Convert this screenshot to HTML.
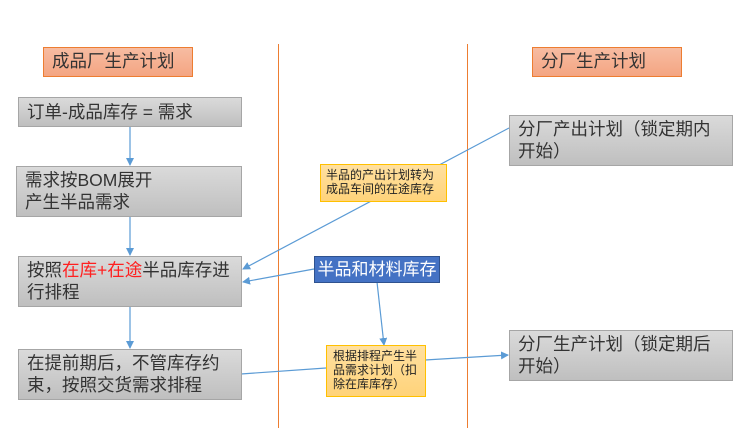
<!DOCTYPE html>
<html><head><meta charset="utf-8"><style>
body{margin:0;width:749px;height:442px;background:#fff;position:relative;overflow:hidden;font-family:"Liberation Sans","Noto Sans CJK SC",sans-serif}
.b{position:absolute;box-sizing:border-box;border:1px solid #a6a6a6;background:linear-gradient(#dadada,#bfbfbf);color:#333;font-size:17.5px;line-height:22px;padding:2px 8px}
.t{position:absolute;box-sizing:border-box;border:1px solid #ed7d31;background:linear-gradient(#f7bca2,#f4a582);color:#333;font-size:17.5px;line-height:27px;padding:0 8px}
.y{position:absolute;box-sizing:border-box;border:1px solid #ffc000;background:linear-gradient(#ffe0a0,#ffd37a);color:#222;font-size:12px;line-height:14px;padding:3px 5px}
.v{position:absolute;top:44px;width:1px;height:384px;background:#ed7d31}
</style></head><body>
<div class="v" style="left:278px"></div>
<div class="v" style="left:467px"></div>
<svg style="position:absolute;left:0;top:0" width="749" height="442">
<defs><marker id="a" markerWidth="8" markerHeight="8" refX="7" refY="4" orient="auto" markerUnits="userSpaceOnUse"><path d="M0,0 L8,4 L0,8z" fill="#5b9bd5"/></marker></defs>
<g stroke="#5b9bd5" stroke-width="1.2" fill="none">
<line x1="130" y1="126" x2="130" y2="165" marker-end="url(#a)"/>
<line x1="130" y1="216" x2="130" y2="255" marker-end="url(#a)"/>
<line x1="130" y1="306" x2="130" y2="348" marker-end="url(#a)"/>
<line x1="509" y1="128" x2="243" y2="269" marker-end="url(#a)"/>
<line x1="314" y1="269" x2="243" y2="282" marker-end="url(#a)"/>
<line x1="377" y1="282" x2="384" y2="345" marker-end="url(#a)"/>
<line x1="241" y1="374" x2="326" y2="368"/>
<line x1="425" y1="360" x2="508" y2="355" marker-end="url(#a)"/>
</g></svg>
<div class="t" style="left:43px;top:47px;width:150px;height:30px">成品厂生产计划</div>
<div class="t" style="left:532px;top:47px;width:150px;height:30px">分厂生产计划</div>
<div class="b" style="left:18px;top:97px;width:224px;height:30px;line-height:24px">订单-成品库存 = 需求</div>
<div class="b" style="left:16px;top:166px;width:226px;height:51px">需求按BOM展开<br>产生半品需求</div>
<div class="b" style="left:18px;top:256px;width:224px;height:51px">按照<span style="color:#ff2020">在库+在途</span>半品库存进<br>行排程</div>
<div class="b" style="left:18px;top:349px;width:224px;height:51px">在提前期后，不管库存约<br>束，按照交货需求排程</div>
<div class="b" style="left:509px;top:115px;width:224px;height:51px">分厂产出计划（锁定期内<br>开始）</div>
<div class="b" style="left:509px;top:330px;width:224px;height:51px">分厂生产计划（锁定期后<br>开始）</div>
<div class="y" style="left:320px;top:164px;width:127px;height:38px">半品的产出计划转为<br>成品车间的在途库存</div>
<div style="position:absolute;left:314px;top:256px;width:126px;height:27px;box-sizing:border-box;border:1px solid #2f528f;background:#4472c4;color:#fff;font-size:17px;line-height:25px;text-align:center">半品和材料库存</div>
<div class="y" style="left:326px;top:345px;width:100px;height:52px;padding:3px 6px">根据排程产生半<br>品需求计划（扣<br>除在库库存）</div>
</body></html>
